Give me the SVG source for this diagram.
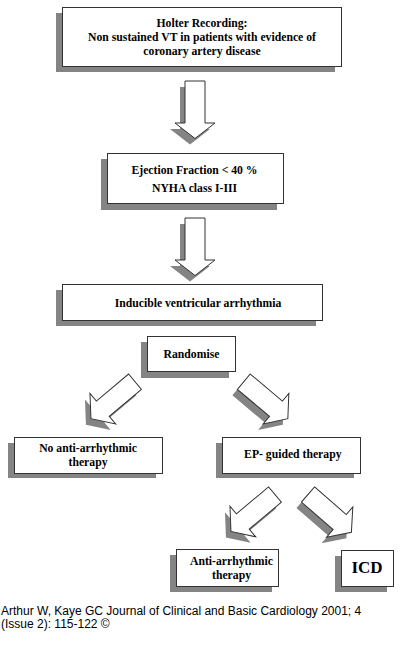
<svg xmlns="http://www.w3.org/2000/svg" width="401" height="661" viewBox="0 0 401 661">
<style>
.sh{fill:#848484;stroke:none}
.bx{fill:#fff;stroke:#333;stroke-width:1}
.ar{fill:#fff;stroke:#333;stroke-width:1;stroke-linejoin:miter}
.t{font-family:"Liberation Serif","Times New Roman",serif;font-weight:bold;font-size:11.7px;fill:#000;text-anchor:middle}
.ft{font-family:"Liberation Sans",Arial,sans-serif;font-size:12px;fill:#000}
</style>
<defs>
<path id="arw" d="M0,-10 L42,-10 L42,-20 L57.5,0 L42,20 L42,10 L0,10 Z"/>
</defs>
<rect width="401" height="661" fill="#fff"/>
<g id="connectors">
<g transform="translate(190,87) rotate(90)"><use href="#arw" class="sh"/></g>
<g transform="translate(195,81) rotate(90)"><use href="#arw" class="ar"/></g>
<g transform="translate(190,224) rotate(90)"><use href="#arw" class="sh"/></g>
<g transform="translate(195,218) rotate(90)"><use href="#arw" class="ar"/></g>
<g transform="translate(130,387.7) rotate(140)"><use href="#arw" class="sh"/></g>
<g transform="translate(135,381.7) rotate(140)"><use href="#arw" class="ar"/></g>
<g transform="translate(238.8,387.7) rotate(40)"><use href="#arw" class="sh"/></g>
<g transform="translate(243.8,381.7) rotate(40)"><use href="#arw" class="ar"/></g>
<g transform="translate(270,500.5) rotate(140)"><use href="#arw" class="sh"/></g>
<g transform="translate(275,494.5) rotate(140)"><use href="#arw" class="ar"/></g>
<g transform="translate(303,500.5) rotate(41)"><use href="#arw" class="sh"/></g>
<g transform="translate(308,494.5) rotate(41)"><use href="#arw" class="ar"/></g>
</g>
<g id="n1">
<rect class="sh" x="56" y="13" width="279" height="59"/>
<rect class="bx" x="62.5" y="7.5" width="279" height="59"/>
<text class="t" x="202" y="26.5">Holter Recording:</text>
<text class="t" x="202" y="40.5">Non sustained VT in patients with evidence of</text>
<text class="t" x="202" y="54.5">coronary artery disease</text>
</g>
<g id="n2">
<rect class="sh" x="101" y="159" width="176" height="51"/>
<rect class="bx" x="107.5" y="153.5" width="176" height="50"/>
<text class="t" x="194.5" y="174.3">Ejection Fraction &lt; 40 %</text>
<text class="t" x="194.5" y="192.3">NYHA class I-III</text>
</g>
<g id="n3">
<rect class="sh" x="56" y="290" width="260" height="36"/>
<rect class="bx" x="62.5" y="284.5" width="260" height="36"/>
<text class="t" x="198" y="307">Inducible ventricular arrhythmia</text>
</g>
<g id="n4">
<rect class="sh" x="141" y="342" width="88" height="36"/>
<rect class="bx" x="147.5" y="336.5" width="88" height="35"/>
<text class="t" x="191.5" y="357.5">Randomise</text>
</g>
<g id="n5">
<rect class="sh" x="8" y="443" width="148" height="35"/>
<rect class="bx" x="14.5" y="437.5" width="148" height="36"/>
<text class="t" x="88" y="452">No anti-arrhythmic</text>
<text class="t" x="88" y="466">therapy</text>
</g>
<g id="n6">
<rect class="sh" x="216" y="443" width="138" height="35"/>
<rect class="bx" x="222.5" y="437.5" width="138" height="36"/>
<text class="t" x="292.8" y="458">EP- guided therapy</text>
</g>
<g id="n7">
<rect class="sh" x="170" y="555" width="102" height="37"/>
<rect class="bx" x="176.5" y="549.5" width="102" height="37"/>
<text class="t" x="231.5" y="565">Anti-arrhythmic</text>
<text class="t" x="231.5" y="579">therapy</text>
</g>
<g id="n8">
<rect class="sh" x="335" y="556" width="52" height="36"/>
<rect class="bx" x="341.5" y="550.5" width="52" height="36"/>
<text class="t" x="367" y="573" style="font-size:17px">ICD</text>
</g>
<g id="footer">
<text class="ft" x="1" y="615">Arthur W, Kaye GC Journal of Clinical and Basic Cardiology 2001; 4</text>
<text class="ft" x="1" y="628">(Issue 2): 115-122 ©</text>
</g>
</svg>
